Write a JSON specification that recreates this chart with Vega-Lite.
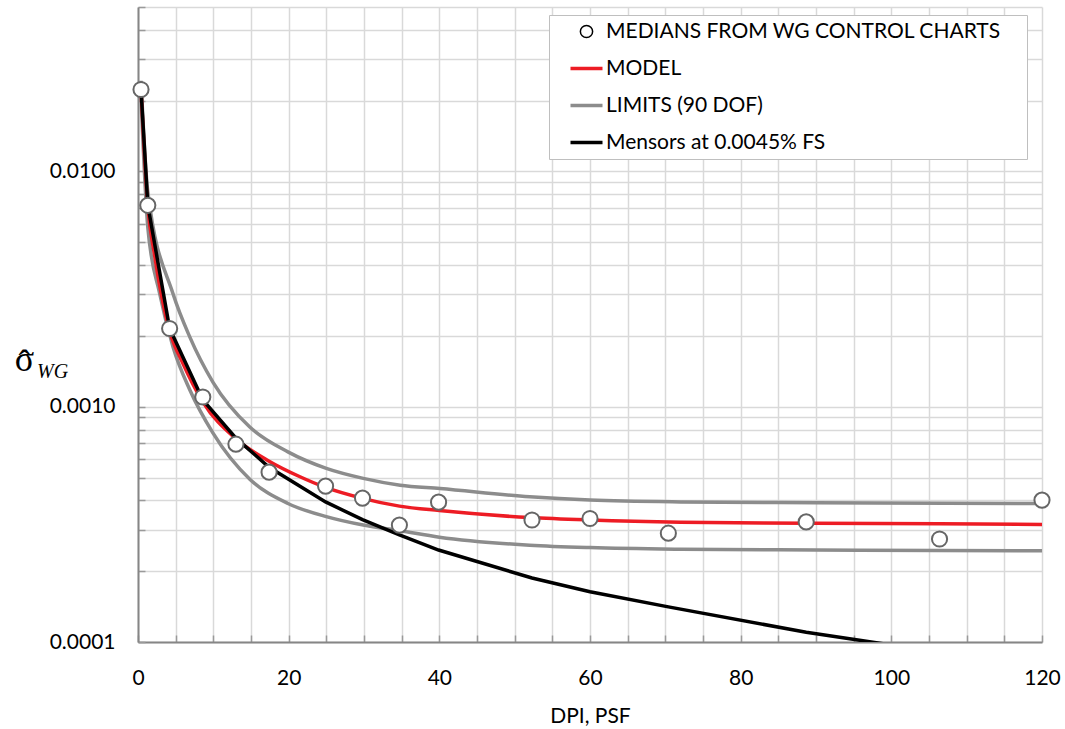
{
  "$schema": "https://vega.github.io/schema/vega-lite/v6.json",
  "width": 904,
  "height": 635,
  "autosize": "none",
  "padding": {"left": 138, "top": 7, "right": 23, "bottom": 87},
  "background": "white",
  "config": {
    "view": {"stroke": null},
    "font": "Lato",
    "axis": {"labelFont": "Lato", "labelFontSize": 21, "labelColor": "#000000", "titleFont": "Lato", "titleFontSize": 21, "titleColor": "#000000", "titleFontWeight": "normal", "gridColor": "#d9d9d9", "gridWidth": 1.5, "gridOpacity": 1, "domainColor": "#868686", "domainWidth": 2, "ticks": true, "tickSize": -7, "tickColor": "#9a9a9a", "tickWidth": 1.5}
  },
  "title": {"text": "WG", "orient": "top", "anchor": "start", "frame": "group", "offset": 0, "dx": -101, "dy": 402, "baseline": "alphabetic", "font": "Liberation Serif", "fontStyle": "italic", "fontWeight": "normal", "fontSize": 20, "color": "#000000"},
  "datasets": {
    "medians": [
      {"series": "MEDIANS FROM WG CONTROL CHARTS", "x": 0.4, "y": 0.0223},
      {"series": "MEDIANS FROM WG CONTROL CHARTS", "x": 1.3, "y": 0.00718},
      {"series": "MEDIANS FROM WG CONTROL CHARTS", "x": 4.2, "y": 0.00215},
      {"series": "MEDIANS FROM WG CONTROL CHARTS", "x": 8.6, "y": 0.0011},
      {"series": "MEDIANS FROM WG CONTROL CHARTS", "x": 13.0, "y": 0.000693},
      {"series": "MEDIANS FROM WG CONTROL CHARTS", "x": 17.4, "y": 0.000527},
      {"series": "MEDIANS FROM WG CONTROL CHARTS", "x": 24.9, "y": 0.00046},
      {"series": "MEDIANS FROM WG CONTROL CHARTS", "x": 29.8, "y": 0.000409},
      {"series": "MEDIANS FROM WG CONTROL CHARTS", "x": 34.7, "y": 0.000314},
      {"series": "MEDIANS FROM WG CONTROL CHARTS", "x": 39.9, "y": 0.000393},
      {"series": "MEDIANS FROM WG CONTROL CHARTS", "x": 52.3, "y": 0.00033},
      {"series": "MEDIANS FROM WG CONTROL CHARTS", "x": 60.0, "y": 0.000335},
      {"series": "MEDIANS FROM WG CONTROL CHARTS", "x": 70.4, "y": 0.00029},
      {"series": "MEDIANS FROM WG CONTROL CHARTS", "x": 88.7, "y": 0.000324},
      {"series": "MEDIANS FROM WG CONTROL CHARTS", "x": 106.4, "y": 0.000274},
      {"series": "MEDIANS FROM WG CONTROL CHARTS", "x": 120.0, "y": 0.000401}
    ],
    "smooth": [
      {"series": "LIMITS (90 DOF)", "part": "upper", "x": 0.4, "y": 0.0243},
      {"series": "LIMITS (90 DOF)", "part": "upper", "x": 1.3, "y": 0.0082},
      {"series": "LIMITS (90 DOF)", "part": "upper", "x": 4.65, "y": 0.00302},
      {"series": "LIMITS (90 DOF)", "part": "upper", "x": 6.87, "y": 0.00198},
      {"series": "LIMITS (90 DOF)", "part": "upper", "x": 9.96, "y": 0.00127},
      {"series": "LIMITS (90 DOF)", "part": "upper", "x": 14.84, "y": 0.00082},
      {"series": "LIMITS (90 DOF)", "part": "upper", "x": 19.9, "y": 0.000643},
      {"series": "LIMITS (90 DOF)", "part": "upper", "x": 25.0, "y": 0.000547},
      {"series": "LIMITS (90 DOF)", "part": "upper", "x": 29.9, "y": 0.000496},
      {"series": "LIMITS (90 DOF)", "part": "upper", "x": 34.8, "y": 0.000464},
      {"series": "LIMITS (90 DOF)", "part": "upper", "x": 40.1, "y": 0.000449},
      {"series": "LIMITS (90 DOF)", "part": "upper", "x": 52.0, "y": 0.000414},
      {"series": "LIMITS (90 DOF)", "part": "upper", "x": 60.0, "y": 0.000401},
      {"series": "LIMITS (90 DOF)", "part": "upper", "x": 72.0, "y": 0.000394},
      {"series": "LIMITS (90 DOF)", "part": "upper", "x": 90.0, "y": 0.000391},
      {"series": "LIMITS (90 DOF)", "part": "upper", "x": 120.0, "y": 0.000388},
      {"series": "LIMITS (90 DOF)", "part": "lower", "x": 0.4, "y": 0.0205},
      {"series": "LIMITS (90 DOF)", "part": "lower", "x": 1.3, "y": 0.0058},
      {"series": "LIMITS (90 DOF)", "part": "lower", "x": 2.88, "y": 0.003024},
      {"series": "LIMITS (90 DOF)", "part": "lower", "x": 4.65, "y": 0.001795},
      {"series": "LIMITS (90 DOF)", "part": "lower", "x": 6.87, "y": 0.00118},
      {"series": "LIMITS (90 DOF)", "part": "lower", "x": 9.96, "y": 0.000772},
      {"series": "LIMITS (90 DOF)", "part": "lower", "x": 14.84, "y": 0.000492},
      {"series": "LIMITS (90 DOF)", "part": "lower", "x": 19.9, "y": 0.000388},
      {"series": "LIMITS (90 DOF)", "part": "lower", "x": 25.0, "y": 0.000341},
      {"series": "LIMITS (90 DOF)", "part": "lower", "x": 29.9, "y": 0.000314},
      {"series": "LIMITS (90 DOF)", "part": "lower", "x": 34.8, "y": 0.000297},
      {"series": "LIMITS (90 DOF)", "part": "lower", "x": 40.0, "y": 0.000279},
      {"series": "LIMITS (90 DOF)", "part": "lower", "x": 52.0, "y": 0.000258},
      {"series": "LIMITS (90 DOF)", "part": "lower", "x": 60.0, "y": 0.000252},
      {"series": "LIMITS (90 DOF)", "part": "lower", "x": 72.0, "y": 0.000248},
      {"series": "LIMITS (90 DOF)", "part": "lower", "x": 90.0, "y": 0.000246},
      {"series": "LIMITS (90 DOF)", "part": "lower", "x": 120.0, "y": 0.000244},
      {"series": "MODEL", "part": "model", "x": 0.4, "y": 0.0223},
      {"series": "MODEL", "part": "model", "x": 1.3, "y": 0.0071},
      {"series": "MODEL", "part": "model", "x": 2.2, "y": 0.0044},
      {"series": "MODEL", "part": "model", "x": 4.2, "y": 0.0021},
      {"series": "MODEL", "part": "model", "x": 6.0, "y": 0.00152},
      {"series": "MODEL", "part": "model", "x": 8.6, "y": 0.00105},
      {"series": "MODEL", "part": "model", "x": 13.0, "y": 0.00073},
      {"series": "MODEL", "part": "model", "x": 17.4, "y": 0.000587},
      {"series": "MODEL", "part": "model", "x": 21.5, "y": 0.000504},
      {"series": "MODEL", "part": "model", "x": 24.9, "y": 0.000454},
      {"series": "MODEL", "part": "model", "x": 29.8, "y": 0.000408},
      {"series": "MODEL", "part": "model", "x": 34.7, "y": 0.000378},
      {"series": "MODEL", "part": "model", "x": 40.0, "y": 0.000362},
      {"series": "MODEL", "part": "model", "x": 52.0, "y": 0.000338},
      {"series": "MODEL", "part": "model", "x": 60.0, "y": 0.00033},
      {"series": "MODEL", "part": "model", "x": 72.0, "y": 0.000323},
      {"series": "MODEL", "part": "model", "x": 88.7, "y": 0.00032},
      {"series": "MODEL", "part": "model", "x": 106.4, "y": 0.000318},
      {"series": "MODEL", "part": "model", "x": 120.0, "y": 0.000316}
    ],
    "mensors": [
      {"series": "Mensors at 0.0045% FS", "x": 0.4, "y": 0.0223},
      {"series": "Mensors at 0.0045% FS", "x": 1.3, "y": 0.0072},
      {"series": "Mensors at 0.0045% FS", "x": 4.2, "y": 0.00215},
      {"series": "Mensors at 0.0045% FS", "x": 8.6, "y": 0.00107},
      {"series": "Mensors at 0.0045% FS", "x": 13.0, "y": 0.000735},
      {"series": "Mensors at 0.0045% FS", "x": 17.4, "y": 0.000553},
      {"series": "Mensors at 0.0045% FS", "x": 24.9, "y": 0.000394},
      {"series": "Mensors at 0.0045% FS", "x": 29.8, "y": 0.000331},
      {"series": "Mensors at 0.0045% FS", "x": 34.7, "y": 0.000285},
      {"series": "Mensors at 0.0045% FS", "x": 39.9, "y": 0.000246},
      {"series": "Mensors at 0.0045% FS", "x": 52.3, "y": 0.000187},
      {"series": "Mensors at 0.0045% FS", "x": 60.0, "y": 0.0001635},
      {"series": "Mensors at 0.0045% FS", "x": 70.4, "y": 0.000141},
      {"series": "Mensors at 0.0045% FS", "x": 88.7, "y": 0.00011},
      {"series": "Mensors at 0.0045% FS", "x": 106.4, "y": 0.0000905},
      {"series": "Mensors at 0.0045% FS", "x": 120.0, "y": 0.000082}
    ]
  },
  "encoding": {
    "x": {
      "field": "x", "type": "quantitative",
      "scale": {"domain": [0, 120], "nice": false, "zero": false},
      "axis": {
        "title": "DPI, PSF",
        "values": [0,5,10,15,20,25,30,35,40,45,50,55,60,65,70,75,80,85,90,95,100,105,110,115,120],
        "labelExpr": "datum.value % 20 === 0 ? datum.label : ''",
        "labelBaseline": "alphabetic", "labelPadding": 49, "labelFlush": false, "labelOverlap": false,
        "titleBaseline": "alphabetic", "titleY": 80
      }
    },
    "y": {
      "field": "y", "type": "quantitative",
      "scale": {"type": "log", "domain": [0.0001, 0.05], "nice": false},
      "axis": {
        "title": ["σ", "ˆ"],
        "values": [0.0001,0.0002,0.0003,0.0004,0.0005,0.0006,0.0007,0.0008,0.0009,0.001,0.002,0.003,0.004,0.005,0.006,0.007,0.008,0.009,0.01,0.02,0.03,0.04,0.05],
        "labelExpr": "indexof([0.0001, 0.001, 0.01], datum.value) >= 0 ? format(datum.value, '.4f') : ''",
        "labelPadding": 30, "labelOverlap": false, "labelFlush": false,
        "titleAngle": 0, "titleAlign": "center", "titleBaseline": "alphabetic", "titleX": -114, "titleY": 363, "titleLineHeight": 4,
        "titleFont": "Liberation Serif", "titleFontSize": 36
      }
    }
  },
  "layer": [
    {
      "data": {"name": "smooth"},
      "mark": {"type": "line", "interpolate": "monotone", "strokeWidth": 3.5, "clip": true},
      "encoding": {
        "detail": {"field": "part"},
        "color": {
          "field": "series", "type": "nominal",
          "scale": {"domain": ["MEDIANS FROM WG CONTROL CHARTS", "MODEL", "LIMITS (90 DOF)", "Mensors at 0.0045% FS"], "range": ["#000000", "#ed1c24", "#8c8c8c", "#000000"]},
          "legend": {
            "title": ".", "titleOrient": "right", "titleColor": "white", "titlePadding": 15, "titleFont": "Lato", "titleFontSize": 21,
            "orient": "none", "legendX": 411, "legendY": 8,
            "labelFont": "Lato", "labelFontSize": 21, "labelColor": "#000000", "labelLimit": 600,
            "symbolSize": 1024, "symbolStrokeWidth": 3.5, "symbolFillColor": "white",
            "symbolOffset": 21, "labelOffset": 9, "rowPadding": 15, "padding": 6,
            "strokeColor": "#bfbfbf", "fillColor": "white", "cornerRadius": 0,
            "encode": {"symbols": {"update": {
              "size": {"signal": "datum.value === 'MEDIANS FROM WG CONTROL CHARTS' ? 150 : 1024"},
              "strokeWidth": {"signal": "datum.value === 'MEDIANS FROM WG CONTROL CHARTS' ? 1.5 : 3.5"}
            }}}
          }
        }
      }
    },
    {
      "data": {"name": "mensors"},
      "mark": {"type": "line", "strokeWidth": 3.5, "clip": true},
      "encoding": {
        "color": {"field": "series", "type": "nominal"}
      }
    },
    {
      "data": {"name": "medians"},
      "mark": {"type": "point", "filled": false, "fill": "white", "stroke": "#666666", "strokeWidth": 2, "size": 230, "opacity": 1, "fillOpacity": 1},
      "encoding": {
        "shape": {"field": "series", "type": "nominal",
          "scale": {"domain": ["MEDIANS FROM WG CONTROL CHARTS", "MODEL", "LIMITS (90 DOF)", "Mensors at 0.0045% FS"], "range": ["circle", "stroke", "stroke", "stroke"]},
          "legend": {"title": ".", "titleOrient": "right"}
        }
      }
    }
  ]
}
